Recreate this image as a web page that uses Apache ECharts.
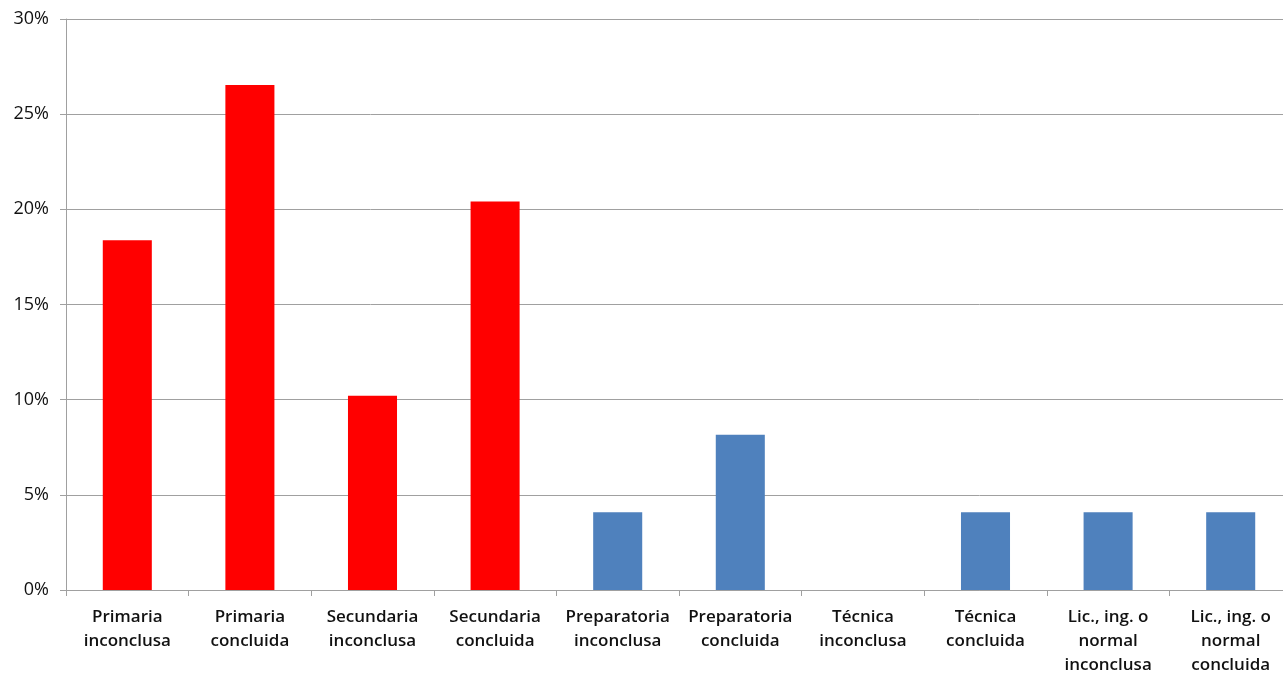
<!DOCTYPE html>
<html>
<head>
<meta charset="utf-8">
<script src="https://cdn.jsdelivr.net/npm/echarts@6/dist/echarts.min.js"></script>
<style>
  html, body { margin: 0; padding: 0; background: #fff; overflow: hidden; }
  #chart { width: 1283px; height: 673px; }
</style>
</head>
<body>
<div id="chart"></div>
<script>
// Nivel de escolaridad (porcentaje de personas)
const categories = [
  'Primaria\ninconclusa',
  'Primaria\nconcluida',
  'Secundaria\ninconclusa',
  'Secundaria\nconcluida',
  'Preparatoria\ninconclusa',
  'Preparatoria\nconcluida',
  'Técnica\ninconclusa',
  'Técnica\nconcluida',
  'Lic., ing. o\nnormal\ninconclusa',
  'Lic., ing. o\nnormal\nconcluida'
];
const values = [18.37, 26.53, 10.20, 20.41, 4.08, 8.16, 0, 4.08, 4.08, 4.08];
// nivel básico vs. nivel medio superior y superior
const groups = ['basica', 'basica', 'basica', 'basica', 'superior', 'superior', 'superior', 'superior', 'superior', 'superior'];
const yTicks = [0, 5, 10, 15, 20, 25, 30];

const groupColors = { basica: '#ff0000', superior: '#4f81bd' };

const chart = echarts.init(document.getElementById('chart'));
chart.setOption({
  animation: false,
  // the plot area runs slightly past the right edge of the canvas
  grid: { left: 66, width: 1226, top: 19, bottom: 83, containLabel: false, outerBoundsMode: 'none' },
  xAxis: {
    type: 'category',
    data: categories,
    axisLine: { lineStyle: { color: '#a0a0a0', width: 1 } },
    axisTick: { show: true, length: 6, lineStyle: { color: '#a0a0a0' } },
    axisLabel: {
      interval: 0,
      margin: 15,
      color: '#111',
      fontFamily: 'Open Sans',
      fontWeight: 600,
      fontSize: 17,
      lineHeight: 24
    }
  },
  yAxis: {
    type: 'value',
    min: yTicks[0],
    max: yTicks[yTicks.length - 1],
    interval: 5,
    axisLine: { show: true, lineStyle: { color: '#a0a0a0', width: 1 } },
    axisTick: { show: true, length: 6, lineStyle: { color: '#a0a0a0' } },
    splitLine: { lineStyle: { color: '#a0a0a0', width: 1 } },
    axisLabel: {
      margin: 17,
      color: '#111',
      fontFamily: 'Open Sans',
      fontSize: 18,
      formatter: v => v + '%'
    }
  },
  series: [{
    type: 'bar',
    barWidth: '40%',
    data: values.map((v, i) => ({ value: v, itemStyle: { color: groupColors[groups[i]] } }))
  }]
});
</script>
</body>
</html>
